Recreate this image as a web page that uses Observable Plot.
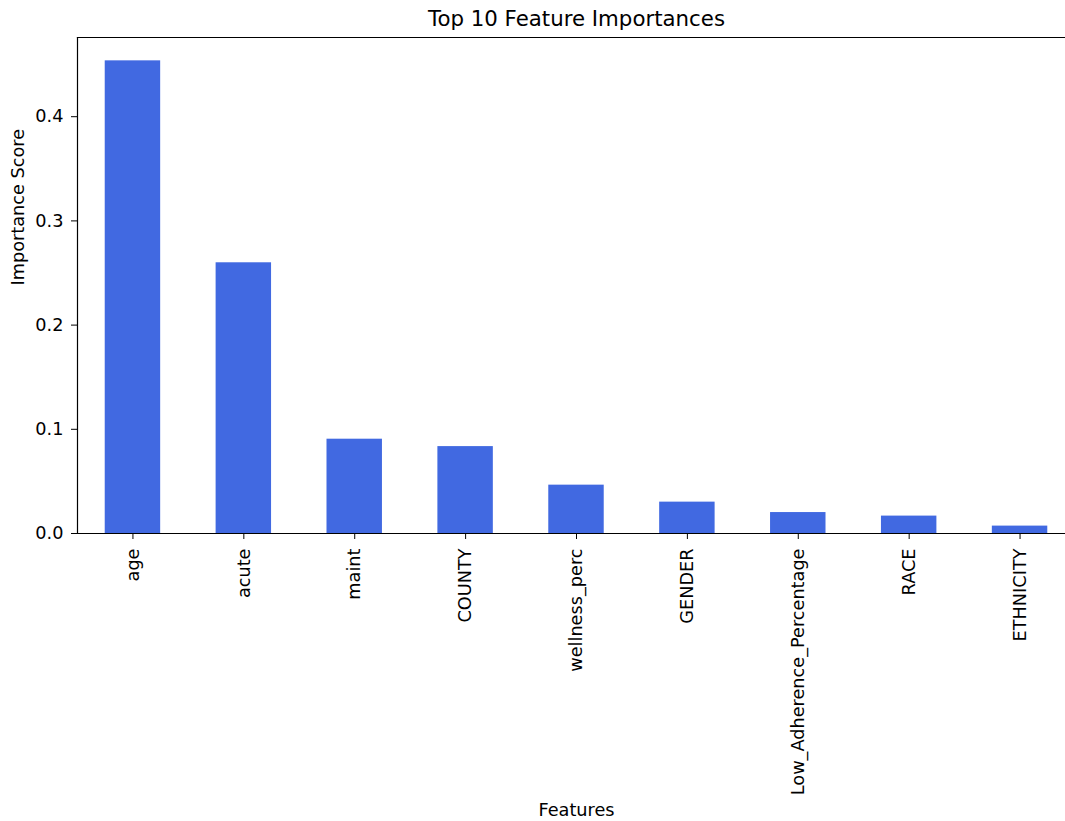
<!DOCTYPE html>
<html>
<head>
<meta charset="utf-8">
<script src="https://cdn.jsdelivr.net/npm/d3@7"></script>
<script src="https://cdn.jsdelivr.net/npm/@observablehq/plot@0.6"></script>
<style>
  html, body { margin: 0; padding: 0; background: white; overflow: hidden; }
  #chart svg { overflow: hidden; }
</style>
</head>
<body>
<div id="chart"></div>
<script>
const features = ["age", "acute", "maint", "COUNTY", "wellness_perc", "GENDER", "Low_Adherence_Percentage", "RACE", "ETHNICITY"];
const importances = [0.4536, 0.2598, 0.0905, 0.0834, 0.0464, 0.0301, 0.0201, 0.0167, 0.0071];
const yTicks = [0.0, 0.1, 0.2, 0.3, 0.4];
const titleText = "Top 10 Feature Importances";
const xLabel = "Features";
const yLabel = "Importance Score";

const data = features.map((f, i) => ({feature: f, value: importances[i]}));

const chart = Plot.plot({
  width: 1065,
  height: 821,
  marginTop: 37,
  marginBottom: 288,
  marginLeft: 77,
  marginRight: -10,
  style: {fontFamily: "DejaVu Sans", fontSize: "17.7px", color: "#000", background: "white"},
  x: {domain: features, paddingInner: 0.5, paddingOuter: 0.25, round: false},
  y: {domain: [0, 0.476]},
  marks: [
    Plot.barY(data, {x: "feature", y: "value", fill: "#4169E1", inset: 0}),
    Plot.axisY({ticks: yTicks, tickFormat: d3.format(".1f"), tickSize: 6, tickPadding: 8, fontSize: 17.7, label: null}),
    Plot.axisX({tickSize: 6, tickPadding: 9, tickRotate: -90, fontSize: 17.7, label: null}),
    Plot.ruleY([0], {stroke: "#000", strokeWidth: 1.2}),
    Plot.frame({anchor: "left", stroke: "#000", strokeWidth: 1.2}),
    Plot.frame({anchor: "top", stroke: "#000", strokeWidth: 1.2}),
    Plot.frame({anchor: "right", stroke: "#000", strokeWidth: 1.2}),
    Plot.text([titleText], {frameAnchor: "top", dy: -18, fontSize: 21.3, fill: "#000", lineAnchor: "middle"}),
    Plot.text([xLabel], {frameAnchor: "bottom", dy: 277, fontSize: 17.7, fill: "#000", lineAnchor: "middle"}),
    Plot.text([yLabel], {frameAnchor: "left", dx: -59, rotate: -90, fontSize: 17.7, fill: "#000", lineAnchor: "middle"})
  ]
});
document.getElementById("chart").appendChild(chart);
</script>
</body>
</html>
